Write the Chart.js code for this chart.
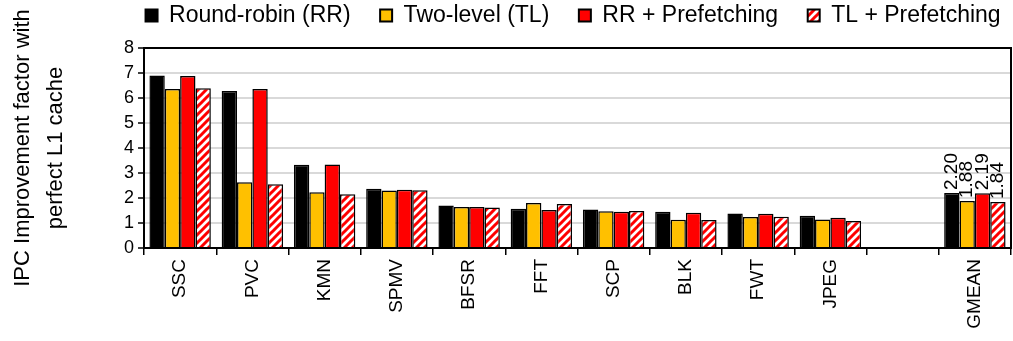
<!DOCTYPE html>
<html>
<head>
<meta charset="utf-8">
<script src="https://cdn.jsdelivr.net/npm/chart.js@4/dist/chart.umd.min.js"></script>
<style>
  html, body { margin: 0; padding: 0; background: #fff; }
  #wrap { width: 1013px; height: 341px; }
</style>
</head>
<body>
<div id="wrap"><canvas id="chart" width="1013" height="341"></canvas></div>
<script>
// data
const categories = ['SSC', 'PVC', 'KMN', 'SPMV', 'BFSR', 'FFT', 'SCP', 'BLK', 'FWT', 'JPEG', '', 'GMEAN'];
const seriesNames = ['Round-robin (RR)', 'Two-level (TL)', 'RR + Prefetching', 'TL + Prefetching'];
const rrValues  = [6.90, 6.28, 3.33, 2.37, 1.70, 1.57, 1.54, 1.45, 1.38, 1.29, null, 2.20];
const tlValues  = [6.36, 2.63, 2.23, 2.30, 1.64, 1.80, 1.47, 1.13, 1.24, 1.14, null, 1.88];
const rrpValues = [6.88, 6.36, 3.34, 2.33, 1.64, 1.52, 1.45, 1.41, 1.37, 1.21, null, 2.19];
const tlpValues = [6.39, 2.55, 2.15, 2.31, 1.62, 1.76, 1.48, 1.12, 1.25, 1.08, null, 1.84];
const yTicks = [0, 1, 2, 3, 4, 5, 6, 7, 8];

const FONT = "'Liberation Sans', Arial, sans-serif";

// pola garis miring merah-putih
function makeHatch() {
    const c = document.createElement('canvas');
    c.width = 8; c.height = 8;
    const g = c.getContext('2d');
    g.fillStyle = '#ffffff';
    g.fillRect(0, 0, 8, 8);
    g.strokeStyle = '#ff0000';
    g.lineWidth = 3;
    g.beginPath();
    g.moveTo(-2, 10); g.lineTo(10, -2);
    g.moveTo(-6, 6); g.lineTo(6, -6);
    g.moveTo(2, 14); g.lineTo(14, 2);
    g.stroke();
    return g.createPattern(c, 'repeat');
}
const hatch = makeHatch();

const fills = ['#000000', '#FFC000', '#FF0000', hatch];
const seriesData = [rrValues, tlValues, rrpValues, tlpValues];

// bingkai kotak di sekeliling area plot
const framePlugin = {
    id: 'frame',
    afterDatasetsDraw(chart) {
        const { ctx, chartArea: a } = chart;
        ctx.save();
        ctx.strokeStyle = '#000';
        ctx.lineWidth = 2;
        ctx.strokeRect(a.left, a.top, a.right - a.left, a.bottom - a.top);
        ctx.restore();
    }
};

// label nilai untuk GMEAN
const gmeanLabels = {
    id: 'gmeanLabels',
    afterDatasetsDraw(chart) {
        const ctx = chart.ctx;
        const idx = categories.indexOf('GMEAN');
        ctx.save();
        ctx.font = '19px ' + FONT;
        ctx.fillStyle = '#000';
        ctx.textAlign = 'left';
        ctx.textBaseline = 'middle';
        chart.data.datasets.forEach((ds, i) => {
            const bar = chart.getDatasetMeta(i).data[idx];
            ctx.save();
            ctx.translate(bar.x, bar.y - 3);
            ctx.rotate(-Math.PI / 2);
            ctx.fillText(ds.data[idx].toFixed(2), 0, 0);
            ctx.restore();
        });
        ctx.restore();
    }
};

new Chart(document.getElementById('chart'), {
    type: 'bar',
    data: {
        labels: categories,
        datasets: seriesNames.map((name, i) => ({
            label: name,
            data: seriesData[i],
            backgroundColor: fills[i],
            borderColor: '#000',
            borderWidth: 1.5,
            categoryPercentage: 0.85,
            barPercentage: 1.0
        }))
    },
    options: {
        responsive: false,
        animation: false,
        layout: { padding: { left: 0, right: 2, top: 0, bottom: 0 } },
        plugins: {
            legend: {
                position: 'top',
                align: 'end',
                labels: {
                    color: '#000',
                    font: { family: FONT, size: 23 },
                    boxWidth: 12,
                    boxHeight: 12,
                    padding: 4,
                    // spasi tambahan agar jarak antar item sama dengan gambar asli
                    generateLabels: chart => seriesNames.map((name, i) => ({
                        text: i < seriesNames.length - 1 ? name + '    ' : name + ' ',
                        fillStyle: fills[i],
                        strokeStyle: '#000',
                        lineWidth: 2,
                        datasetIndex: i
                    }))
                }
            },
            // judul kosong hanya sebagai jarak antara legenda dan area plot
            title: {
                display: true,
                text: ' ',
                weight: 500,
                font: { size: 10, lineHeight: 1.1 },
                padding: 0
            },
            tooltip: { enabled: false }
        },
        scales: {
            y: {
                min: 0,
                max: 8,
                afterBuildTicks: s => { s.ticks = yTicks.map(v => ({ value: v })); },
                afterFit: s => { s.width = 144; },
                ticks: {
                    color: '#000',
                    font: { family: FONT, size: 18 },
                    padding: 4,
                    autoSkip: false
                },
                grid: {
                    color: '#d9d9d9',
                    lineWidth: 2,
                    tickColor: '#000',
                    tickLength: 6,
                    tickWidth: 1.5
                },
                border: { color: '#000', width: 2 },
                title: {
                    display: true,
                    text: ['IPC Improvement factor with', 'perfect L1 cache'],
                    color: '#000',
                    font: { family: FONT, size: 22, lineHeight: 1.5 },
                    padding: { top: 6, bottom: 0 }
                }
            },
            x: {
                afterFit: s => { s.height = 93; },
                ticks: {
                    color: '#000',
                    font: { family: FONT, size: 19 },
                    maxRotation: 90,
                    minRotation: 90,
                    autoSkip: false,
                    padding: 4
                },
                grid: {
                    offset: true,
                    drawOnChartArea: false,
                    color: '#000',
                    tickLength: 7,
                    lineWidth: 1.5
                },
                border: { color: '#000', width: 2 }
            }
        }
    },
    plugins: [framePlugin, gmeanLabels]
});
</script>
</body>
</html>
